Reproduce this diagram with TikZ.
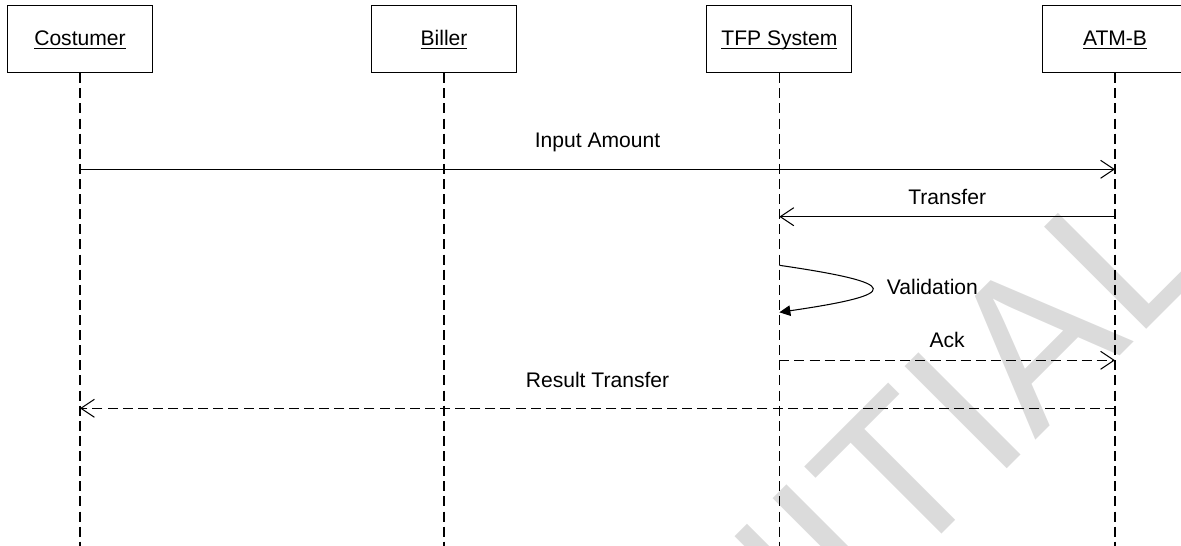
\documentclass[tikz,border=0pt]{standalone}
\usepackage{fontspec}
\setmainfont{Liberation Sans}
\usetikzlibrary{arrows.meta}
\newcommand{\actorname}[1]{\underline{\smash{#1}}}
\tikzset{
	actor/.style={draw, line width=0.6pt, minimum width=2.9cm, minimum height=1.34cm, inner sep=0pt, text height=0.3cm, text depth=0.03cm, font=\fontsize{12}{14}\selectfont},
	lifeline/.style={line width=0.6pt, dash pattern=on 5.7pt off 2.9pt},
	msg/.style={line width=0.6pt, -{Straight Barb[length=2.7mm,width=3.6mm]}},
	reply/.style={msg, dash pattern=on 5.7pt off 2.9pt},
	selfmsg/.style={line width=0.6pt, -{Triangle[length=2.2mm,width=2.1mm]}},
	msgtext/.style={inner sep=0pt, anchor=base, font=\fontsize{12}{14}\selectfont},
	watermark/.style={inner sep=0pt, rotate=45, anchor=base east, text=black!14, font=\fontsize{119.5}{120}\selectfont}
}

\begin{document}
\begin{tikzpicture}
			%%%%% START %%%%%
			
			\useasboundingbox (0, 0) rectangle (23.62, -10.92);
			\clip (0, 0) rectangle (23.62, -10.92);
			
			\node[watermark] (mark) at (24.34, -5.18) {INITIAL};
			
			\node[actor] (cost) at (1.6, -0.784) {\actorname{Costumer}};
			\node[actor] (bill) at (8.88, -0.784) {\actorname{Biller}};
			\node[actor] (tfp) at (15.587, -0.784) {\actorname{TFP System}};
			\node[actor] (atm) at (22.3, -0.784) {\actorname{ATM-B}};
			
			\coordinate (bot) at (0, -11);
			\draw[lifeline] (cost.south) -- (cost |- bot);
			\draw[lifeline] (bill.south) -- (bill |- bot);
			\draw[lifeline] (tfp.south) -- (tfp |- bot);
			\draw[lifeline] (atm.south) -- (atm |- bot);
			
			\coordinate (rin) at (0, -3.386);
			\coordinate (rtr) at (0, -4.334);
			\coordinate (rv1) at (0, -5.306);
			\coordinate (rv2) at (0, -6.246);
			\coordinate (rack) at (0, -7.206);
			\coordinate (rres) at (0, -8.166);
			
			\draw[msg] (cost |- rin) -- node[msgtext, yshift=0.44cm] (lin) {Input Amount} (atm |- rin);
			\draw[msg] (atm |- rtr) -- node[msgtext, yshift=0.234cm] (ltr) {Transfer} (tfp |- rtr);
			
			\draw[selfmsg] (tfp |- rv1) .. controls +(2.47, -0.36) and +(2.47, 0.36) .. (tfp |- rv2);
			\node[msgtext, anchor=base west] (lval) at (17.73, -5.9) {Validation};
			
			\draw[reply] (tfp |- rack) -- node[msgtext, yshift=0.26cm] (lack) {Ack} (atm |- rack);
			\draw[reply] (atm |- rres) -- node[msgtext, yshift=0.426cm] (lres) {Result Transfer} (cost |- rres);
			
			%%%%% END %%%%%
\end{tikzpicture}
\end{document}
